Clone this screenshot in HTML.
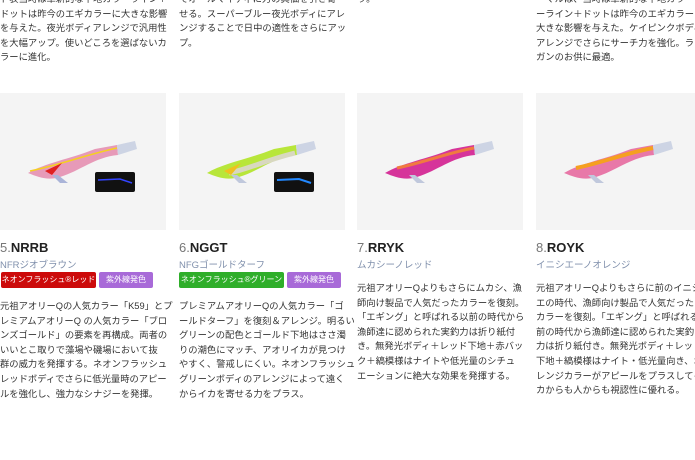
<!DOCTYPE html>
<html><head><meta charset="utf-8"><style>
body{margin:0;width:695px;height:460px;overflow:hidden;background:#fff;position:relative;font-family:"Liberation Sans","Noto Sans CJK JP",sans-serif;color:#333}
.t{position:absolute;font-size:9.3px;line-height:14.6px;white-space:nowrap;color:#333;overflow:hidden}
.box{position:absolute;top:93px;width:166px;height:137px;background:#f4f4f4}
.h{position:absolute;top:240px;font-size:13px;font-weight:bold;color:#222;white-space:nowrap}
.h span{font-weight:normal;color:#777}
.s{position:absolute;top:257px;font-size:9.5px;color:#8090ac;white-space:nowrap}
.b{position:absolute;top:272px;height:16px;line-height:16px;font-size:8px;color:#fff;text-align:center;border-radius:2px;white-space:nowrap;overflow:hidden}
</style></head><body>

<div class="t" style="left:0;top:-8px;width:170px">ド表当時は革新的な下地カラーライン＋<br>ドットは昨今のエギカラーに大きな影響<br>を与えた。夜光ボディアレンジで汎用性<br>を大幅アップ。使いどころを選ばないカ<br>ラーに進化。</div>
<div class="t" style="left:179px;top:-8px;width:172px">てオールマイティに力の真価を引き寄<br>せる。スーパーブルー夜光ボディにアレ<br>ンジすることで日中の適性をさらにアッ<br>プ。</div>
<div class="t" style="left:357px;top:-8px">ラ。</div>
<div class="t" style="left:536px;top:-8px;width:159px">ーマルは、当時は革新的な下地カラ<br>ーライン＋ドットは昨今のエギカラーに<br>大きな影響を与えた。ケイピンクボディ<br>アレンジでさらにサーチ力を強化。ラン<br>ガンのお供に最適。</div>

<div class="box" style="left:0"><svg width="166" height="137" viewBox="0 0 166 137">
<path d="M28,80 C45,70 70,66 95,56 L117,52 L118,62 C95,64 80,78 60,84 C48,88 38,84 28,80Z" fill="#e79ab8"/>
<path d="M30,78 C60,72 85,62 117,55" stroke="#f5d020" stroke-width="1.6" fill="none"/>
<path d="M45,78 L62,70 L52,82Z" fill="#e02020"/>
<path d="M52,82 L60,90 L68,90 L58,82Z" fill="#aab4d8"/>
<path d="M117,52 L135,48 L137,56 L118,62Z" fill="#cdd4e4"/>
<rect x="95" y="79" width="40" height="20" rx="2" fill="#111"/>
<path d="M98,87 L120,86 L132,90" stroke="#3344ff" stroke-width="1.5" fill="none"/>
</svg></div>
<div class="box" style="left:179px"><svg width="166" height="137" viewBox="0 0 166 137">
<path d="M28,80 C45,70 70,66 95,56 L117,52 L118,62 C95,64 80,78 60,84 C48,88 38,84 28,80Z" fill="#b8e63a"/>
<path d="M50,80 C70,76 90,66 116,60" stroke="#d8d8c0" stroke-width="5" fill="none"/>
<path d="M45,78 L62,70 L52,82Z" fill="#f0c020"/>
<path d="M52,82 L60,90 L68,90 L58,82Z" fill="#c0c8dc"/>
<path d="M117,52 L135,48 L137,56 L118,62Z" fill="#cdd4e4"/>
<rect x="95" y="79" width="40" height="20" rx="2" fill="#111"/>
<path d="M98,87 L120,86 L132,90" stroke="#2288ff" stroke-width="2" fill="none"/>
</svg></div>
<div class="box" style="left:357px"><svg width="166" height="137" viewBox="0 0 166 137">
<path d="M28,80 C45,70 70,66 95,56 L117,52 L118,62 C95,64 80,78 60,84 C48,88 38,84 28,80Z" fill="#d6349a"/>
<path d="M40,75 C65,70 90,60 117,55" stroke="#f07a40" stroke-width="3" fill="none"/>
<path d="M52,82 L60,90 L68,90 L58,82Z" fill="#c0c8dc"/>
<path d="M117,52 L135,48 L137,56 L118,62Z" fill="#cdd4e4"/>
</svg></div>
<div class="box" style="left:536px"><svg width="166" height="137" viewBox="0 0 166 137">
<path d="M28,80 C45,70 70,66 95,56 L117,52 L118,62 C95,64 80,78 60,84 C48,88 38,84 28,80Z" fill="#e878a8"/>
<path d="M40,75 C65,70 90,60 117,55" stroke="#f5a020" stroke-width="4" fill="none"/>
<path d="M52,82 L60,90 L68,90 L58,82Z" fill="#c0c8dc"/>
<path d="M117,52 L135,48 L137,56 L118,62Z" fill="#cdd4e4"/>
</svg></div>

<div class="h" style="left:0"><span>5.</span>NRRB</div>
<div class="h" style="left:179px"><span>6.</span>NGGT</div>
<div class="h" style="left:357px"><span>7.</span>RRYK</div>
<div class="h" style="left:536px"><span>8.</span>ROYK</div>
<div class="s" style="left:0">NFRジオブラウン</div>
<div class="s" style="left:179px">NFGゴールドターフ</div>
<div class="s" style="left:357px">ムカシーノレッド</div>
<div class="s" style="left:536px">イニシエーノオレンジ</div>
<div class="b" style="left:1px;width:95px;background:#cc0a0a">ネオンフラッシュ®レッド</div>
<div class="b" style="left:99px;width:54px;background:#a86ad8">紫外線発色</div>
<div class="b" style="left:179px;width:105px;background:#2fae2a">ネオンフラッシュ®グリーン</div>
<div class="b" style="left:287px;width:54px;background:#a86ad8">紫外線発色</div>

<div class="t" style="left:0;top:299px">元祖アオリーQの人気カラー「K59」とプ<br>レミアムアオリーQ の人気カラー「ブロ<br>ンズゴールド」の要素を再構成。両者の<br>いいとこ取りで藻場や磯場において抜<br>群の威力を発揮する。ネオンフラッシュ<br>レッドボディでさらに低光量時のアピー<br>ルを強化し、強力なシナジーを発揮。</div>
<div class="t" style="left:179px;top:299px">プレミアムアオリーQの人気カラー「ゴ<br>ールドターフ」を復刻＆アレンジ。明るい<br>グリーンの配色とゴールド下地はささ濁<br>りの潮色にマッチ、アオリイカが見つけ<br>やすく、警戒しにくい。ネオンフラッシュ<br>グリーンボディのアレンジによって遠く<br>からイカを寄せる力をプラス。</div>
<div class="t" style="left:357px;top:281px">元祖アオリーQよりもさらにムカシ、漁<br>師向け製品で人気だったカラーを復刻。<br>「エギング」と呼ばれる以前の時代から<br>漁師達に認められた実釣力は折り紙付<br>き。無発光ボディ＋レッド下地＋赤バッ<br>ク＋縞模様はナイトや低光量のシチュ<br>エーションに絶大な効果を発揮する。</div>
<div class="t" style="left:536px;top:281px;width:159px">元祖アオリーQよりもさらに前のイニシ<br>エの時代、漁師向け製品で人気だった<br>カラーを復刻。「エギング」と呼ばれる以<br>前の時代から漁師達に認められた実釣<br>力は折り紙付き。無発光ボディ＋レッド<br>下地＋縞模様はナイト・低光量向き、オ<br>レンジカラーがアピールをプラスしてイ<br>カからも人からも視認性に優れる。</div>
</body></html>
